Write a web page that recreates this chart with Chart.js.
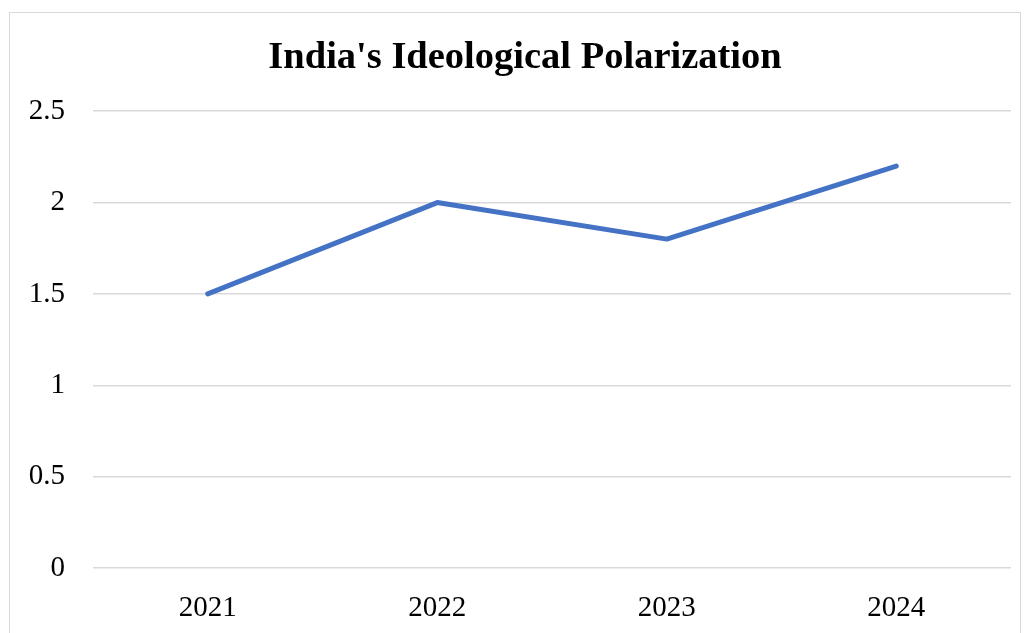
<!DOCTYPE html>
<html lang="en">
<head>
    <meta charset="UTF-8" />
    <title>India's Ideological Polarization</title>
    <script src="https://cdn.jsdelivr.net/npm/chart.js"></script>
    <style>
        body { margin: 0; background: #fff; }
        .frame {
            position: absolute;
            left: 9px;
            top: 12px;
            width: 1010px;
            height: 640px;
            border: 1px solid #d9d9d9;
        }
    </style>
</head>
<body>
    <div class="frame">
        <canvas id="polChart" width="1010" height="640"></canvas>
    </div>

    <script>
        const years = ['2021', '2022', '2023', '2024'];
        const polarization = [1.5, 2.0, 1.8, 2.2];

        const serif = "'Liberation Serif', 'Times New Roman', serif";

        // the title sits a little right of the canvas centre
        const titleNudge = {
            id: 'titleNudge',
            afterLayout(chart) {
                if (chart.titleBlock) chart.titleBlock.left += 29;
            }
        };

        new Chart(document.getElementById('polChart'), {
            type: 'line',
            data: {
                labels: years,
                datasets: [{
                    label: 'Polarization',
                    data: polarization,
                    borderColor: '#4472C4',
                    borderWidth: 5,
                    borderCapStyle: 'round',
                    borderJoinStyle: 'round',
                    pointRadius: 0,
                    tension: 0,
                    fill: false
                }]
            },
            options: {
                responsive: false,
                animation: false,
                layout: { padding: { left: 0, right: 9, top: 0, bottom: 0 } },
                plugins: {
                    legend: { display: false },
                    tooltip: { enabled: false },
                    title: {
                        display: true,
                        text: "India's Ideological Polarization",
                        color: '#000',
                        font: { family: serif, size: 38.5, weight: 'bold' },
                        padding: { top: 22, bottom: 30 }
                    }
                },
                scales: {
                    x: {
                        offset: true,
                        grid: { display: false },
                        border: { display: false },
                        ticks: {
                            color: '#000',
                            font: { family: serif, size: 29 },
                            padding: 15
                        },
                        afterFit: s => { s.height = 85; }
                    },
                    y: {
                        min: 0,
                        max: 2.5,
                        grid: { color: '#d9d9d9', lineWidth: 1.5, drawTicks: false },
                        border: { display: false },
                        ticks: {
                            stepSize: 0.5,
                            color: '#000',
                            font: { family: serif, size: 29 },
                            padding: 28,
                            callback: v => String(Number(v.toFixed(1)))
                        },
                        afterFit: s => { s.width = 83; }
                    }
                }
            },
            plugins: [titleNudge]
        });
    </script>
</body>
</html>
